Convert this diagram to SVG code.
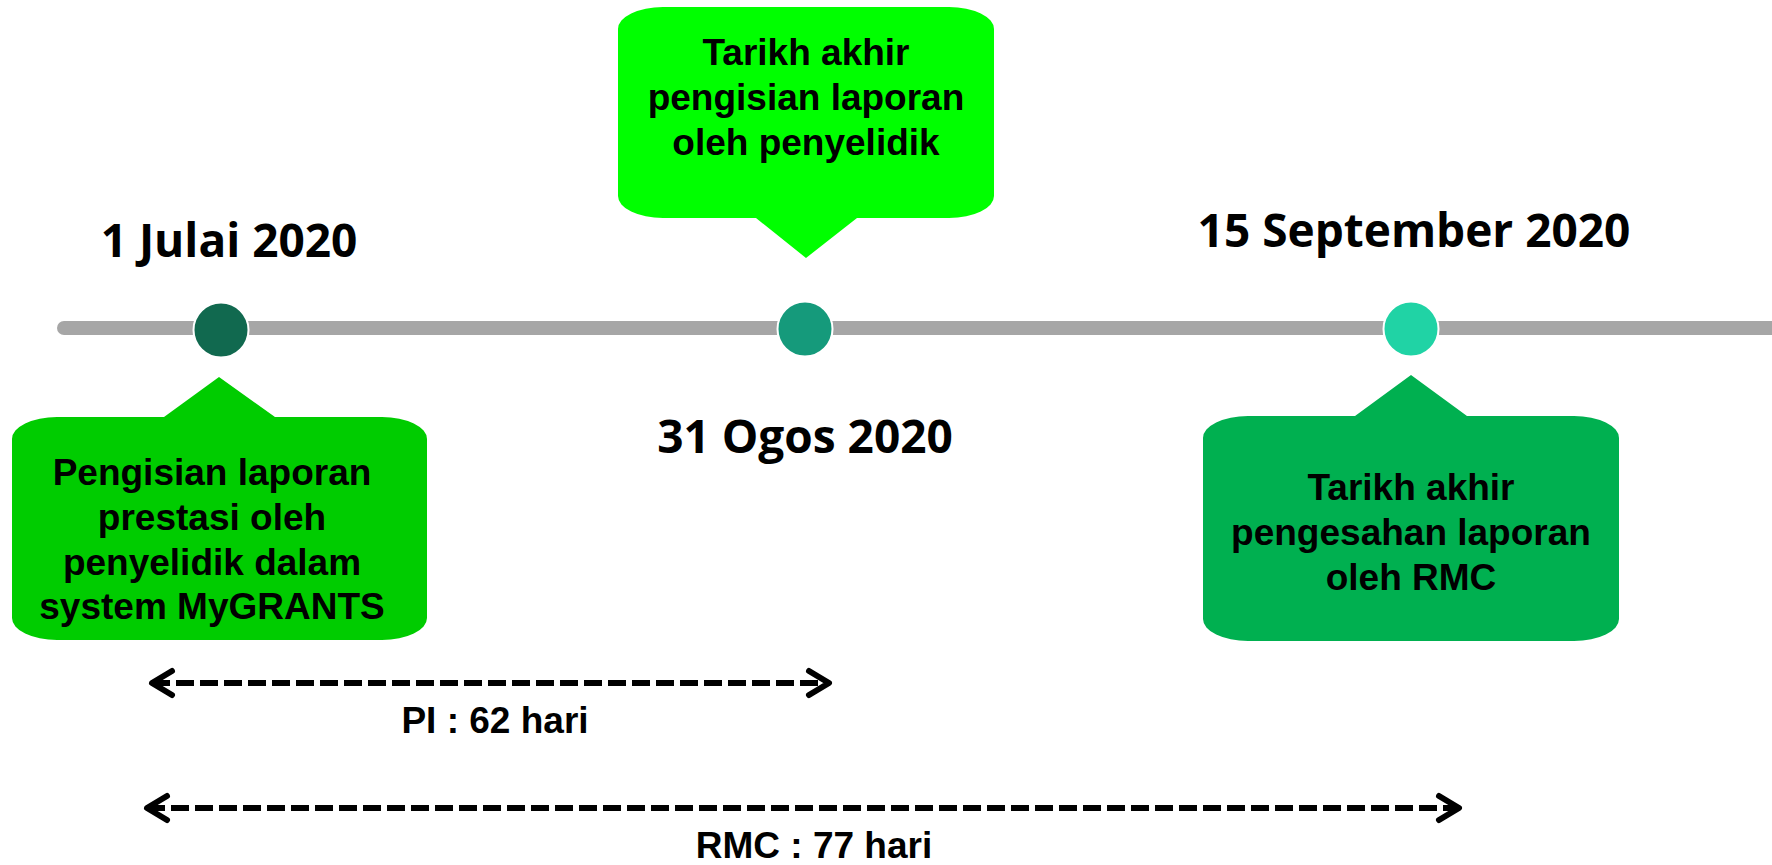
<svg xmlns="http://www.w3.org/2000/svg" width="1772" height="865" viewBox="0 0 1772 865">
<defs>
<style>
.date{font-family:"Open Sans","Liberation Sans",sans-serif;font-weight:700;font-size:46px;fill:#000;text-anchor:middle}
.ct{font-family:"Liberation Sans",Arial,sans-serif;font-weight:700;font-size:37px;fill:#000;text-anchor:middle}
.lbl{font-family:"Liberation Sans",Arial,sans-serif;font-weight:700;font-size:37px;fill:#000;text-anchor:middle}
.dot{stroke:#fff;stroke-width:2}
.dash{stroke:#000;stroke-width:6;stroke-dasharray:18 6;fill:none}
</style>
<marker id="chev" markerUnits="userSpaceOnUse" markerWidth="30" markerHeight="30" refX="22" refY="15" orient="auto-start-reverse" overflow="visible">
<path d="M 2,3 L 22,15 L 2,27" fill="none" stroke="#000" stroke-width="6" stroke-linecap="round" stroke-linejoin="round"/>
</marker>
</defs>
<rect width="1772" height="865" fill="#fff"/>
<g id="timeline">
<line x1="64" y1="328" x2="1790" y2="328" stroke="#A6A6A6" stroke-width="14" stroke-linecap="round"/>
</g>
<g id="node-jul">
<circle class="dot" cx="221" cy="330" r="27.5" fill="#11694F"/>
<text class="date" x="229" y="257">1 Julai 2020</text>
</g>
<g id="node-ogos">
<circle class="dot" cx="805" cy="329" r="27.5" fill="#159A7B"/>
<text class="date" x="805" y="453">31 Ogos 2020</text>
</g>
<g id="node-sep">
<circle class="dot" cx="1411" cy="329" r="27.5" fill="#20D3A5"/>
<text class="date" x="1414" y="247">15 September 2020</text>
</g>
<g id="callout-1">
<path d="M 57,417 L 164,417 L 219,377 L 275,417 L 382,417 A 45 22 0 0 1 427,439 L 427,618 A 45 22 0 0 1 382,640 L 57,640 A 45 22 0 0 1 12,618 L 12,439 A 45 22 0 0 1 57,417 Z" fill="#00CC00"/>
<text class="ct" x="212" y="485">Pengisian laporan</text>
<text class="ct" x="212" y="530">prestasi oleh</text>
<text class="ct" x="212" y="575">penyelidik dalam</text>
<text class="ct" x="212" y="619">system MyGRANTS</text>
</g>
<g id="callout-2">
<path d="M 663,7 L 949,7 A 45 22 0 0 1 994,29 L 994,196 A 45 22 0 0 1 949,218 L 857,218 L 806,258 L 756,218 L 663,218 A 45 22 0 0 1 618,196 L 618,29 A 45 22 0 0 1 663,7 Z" fill="#00FF00"/>
<text class="ct" x="806" y="65">Tarikh akhir</text>
<text class="ct" x="806" y="110">pengisian laporan</text>
<text class="ct" x="806" y="155">oleh penyelidik</text>
</g>
<g id="callout-3">
<path d="M 1248,416 L 1355,416 L 1411,375 L 1467,416 L 1574,416 A 45 22 0 0 1 1619,438 L 1619,619 A 45 22 0 0 1 1574,641 L 1248,641 A 45 22 0 0 1 1203,619 L 1203,438 A 45 22 0 0 1 1248,416 Z" fill="#00B050"/>
<text class="ct" x="1411" y="500">Tarikh akhir</text>
<text class="ct" x="1411" y="545">pengesahan laporan</text>
<text class="ct" x="1411" y="590">oleh RMC</text>
</g>
<g id="connectors">
<line class="dash" x1="152" y1="683" x2="829" y2="683" marker-start="url(#chev)" marker-end="url(#chev)"/>
<line class="dash" x1="147" y1="808" x2="1459" y2="808" marker-start="url(#chev)" marker-end="url(#chev)"/>
</g>
<g id="labels">
<text class="lbl" x="495" y="733">PI : 62 hari</text>
<text class="lbl" x="814" y="858">RMC : 77 hari</text>
</g>
</svg>
